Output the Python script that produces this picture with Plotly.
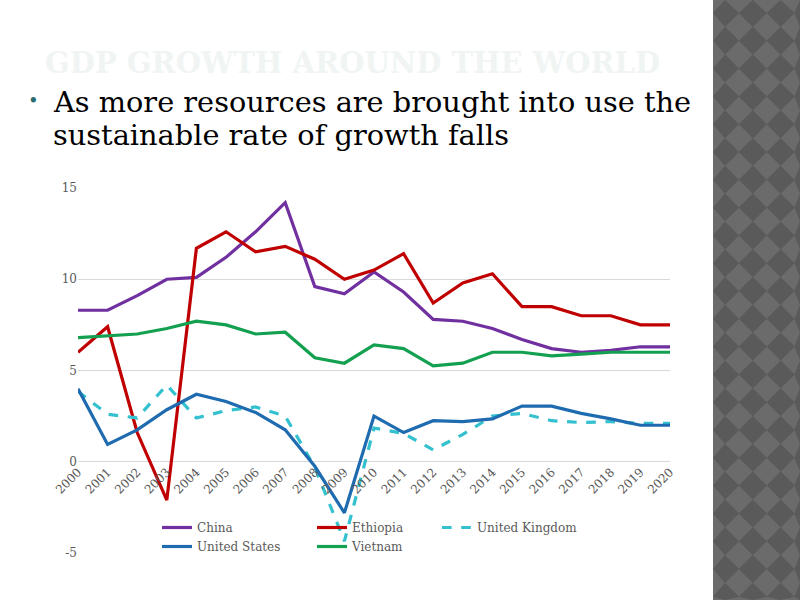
import plotly.graph_objects as go

years = list(range(2000, 2021))
year_labels = [str(y) for y in years]

china = [8.3, 8.3, 9.1, 10.0, 10.1, 11.2, 12.6, 14.2, 9.6, 9.2, 10.4, 9.3, 7.8, 7.7, 7.3, 6.7, 6.2, 6.0, 6.1, 6.3, 6.3]
ethiopia = [6.0, 7.4, 1.6, -2.1, 11.7, 12.6, 11.5, 11.8, 11.1, 10.0, 10.5, 11.4, 8.7, 9.8, 10.3, 8.5, 8.5, 8.0, 8.0, 7.5, 7.5]
united_kingdom = [3.85, 2.6, 2.4, 4.2, 2.4, 2.8, 3.0, 2.5, -0.3, -4.35, 1.85, 1.55, 0.65, 1.5, 2.5, 2.65, 2.25, 2.15, 2.2, 2.1, 2.1]
united_states = [4.0, 0.95, 1.75, 2.85, 3.7, 3.3, 2.7, 1.75, -0.25, -2.8, 2.5, 1.6, 2.25, 2.2, 2.35, 3.05, 3.05, 2.65, 2.35, 2.0, 2.0]
vietnam = [6.8, 6.9, 7.0, 7.3, 7.7, 7.5, 7.0, 7.1, 5.7, 5.4, 6.4, 6.2, 5.25, 5.4, 6.0, 6.0, 5.8, 5.9, 6.0, 6.0, 6.0]

y_ticks = [-5, 0, 5, 10, 15]
y_tick_labels = ["-5", "0", "5", "10", "15"]

W, H = 800, 600
L, R, T, B = 78, 130, 188, 47
PW, PH = W - L - R, H - T - B

def px(x):
    return (x - L) / PW

def py(y):
    return (H - B - y) / PH

FONT = "DejaVu Serif"
GREY = "#595959"

fig = go.Figure()
series = [
    ("China", china, "#7030A0", "solid", "legend"),
    ("Ethiopia", ethiopia, "#C00000", "solid", "legend2"),
    ("United Kingdom", united_kingdom, "#33C0CF", "dash", "legend3"),
    ("United States", united_states, "#1F6BB0", "solid", "legend"),
    ("Vietnam", vietnam, "#13A050", "solid", "legend2"),
]
for name, vals, col, dash, lg in series:
    fig.add_trace(go.Scatter(x=years, y=vals, mode="lines", name=name, legend=lg,
                             line=dict(color=col, width=3.2, dash=dash)))

# background pattern panel on right
shapes = []
panel_x0 = 713
shapes.append(dict(type="rect", xref="paper", yref="paper",
                   x0=px(panel_x0), x1=px(W), y0=py(H), y1=py(0),
                   fillcolor="#6b6b6b", line=dict(width=0), layer="below"))
path = ""
step = 27.8
hw = 14
cx0, cy0 = 725, 13
for j in range(-1, 23):
    for i in range(-1, 4):
        cx = cx0 + i * step
        cy = cy0 + j * step
        pts = [(cx, cy - hw), (cx + hw, cy), (cx, cy + hw), (cx - hw, cy)]
        pts = [(max(min(x, W), panel_x0), max(min(y, H), 0)) for x, y in pts]
        path += "M{:.4f},{:.4f} L{:.4f},{:.4f} L{:.4f},{:.4f} L{:.4f},{:.4f} Z ".format(
            px(pts[0][0]), py(pts[0][1]), px(pts[1][0]), py(pts[1][1]),
            px(pts[2][0]), py(pts[2][1]), px(pts[3][0]), py(pts[3][1]))
shapes.append(dict(type="path", xref="paper", yref="paper", path=path,
                   fillcolor="#5a5a5a", line=dict(width=0), layer="below"))

annotations = [
    dict(text="<b>GDP GROWTH AROUND THE WORLD</b>", xref="paper", yref="paper",
         x=px(352), y=py(63), xanchor="center", yanchor="middle", showarrow=False,
         font=dict(family=FONT, size=29, color="#F0F5F4")),
    dict(text="•", xref="paper", yref="paper", x=px(33), y=py(100),
         xanchor="center", yanchor="middle", showarrow=False,
         font=dict(family=FONT, size=18, color="#2B6B74")),
    dict(text="As more resources are brought into use the", xref="paper", yref="paper",
         x=px(51), y=py(102), xanchor="left", yanchor="middle", showarrow=False,
         font=dict(family=FONT, size=28.8, color="#000000")),
    dict(text="sustainable rate of growth falls", xref="paper", yref="paper",
         x=px(51), y=py(135), xanchor="left", yanchor="middle", showarrow=False,
         font=dict(family=FONT, size=28.8, color="#000000")),
]

def legend_at(xpix):
    return dict(orientation="v", x=px(xpix), y=py(513), xanchor="left", yanchor="top",
                font=dict(family=FONT, size=12, color=GREY),
                bgcolor="rgba(0,0,0,0)", tracegroupgap=0, itemwidth=30)

fig.update_layout(
    width=W, height=H,
    margin=dict(l=L, r=R, t=T, b=B, autoexpand=False),
    paper_bgcolor="white", plot_bgcolor="white",
    showlegend=True,
    legend=legend_at(157),
    legend2=legend_at(312),
    legend3=legend_at(437),
    shapes=shapes,
    annotations=annotations,
    xaxis=dict(range=[2000, 2020], tickmode="array", tickvals=years, ticktext=year_labels,
               tickangle=-45, showgrid=False, zeroline=False, showline=False,
               anchor="free", position=0.25, ticks="",
               tickfont=dict(family=FONT, size=12, color=GREY)),
    yaxis=dict(range=[-5, 15], tickmode="array", tickvals=y_ticks, ticktext=y_tick_labels,
               showgrid=True, gridcolor="#D9D9D9", gridwidth=1, zeroline=False,
               showline=False, ticks="",
               tickfont=dict(family=FONT, size=12, color=GREY)),
)

fig.write_html("out.html", config={"displayModeBar": False},
               post_script="document.body.style.margin='0px';")
